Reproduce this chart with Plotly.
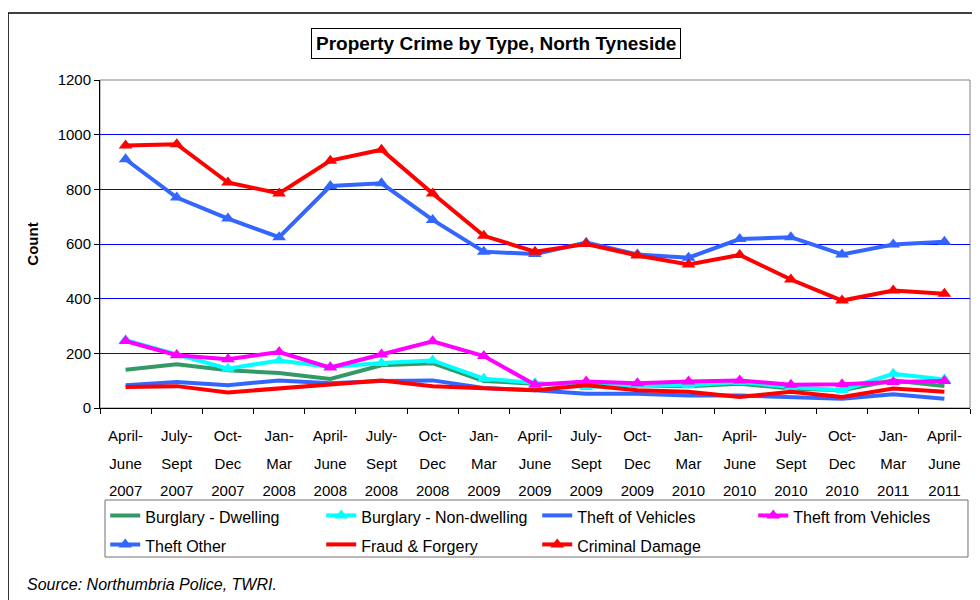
import plotly.graph_objects as go

# ---------------- data ----------------
period_line1 = ["April-", "July-", "Oct-", "Jan-", "April-", "July-", "Oct-", "Jan-", "April-",
                "July-", "Oct-", "Jan-", "April-", "July-", "Oct-", "Jan-", "April-"]
period_line2 = ["June", "Sept", "Dec", "Mar", "June", "Sept", "Dec", "Mar", "June",
                "Sept", "Dec", "Mar", "June", "Sept", "Dec", "Mar", "June"]
period_line3 = ["2007", "2007", "2007", "2008", "2008", "2008", "2008", "2009", "2009",
                "2009", "2009", "2010", "2010", "2010", "2010", "2011", "2011"]

burglary_dwelling = [140, 160, 138, 128, 106, 156, 164, 99, 89, 83, 83, 80, 89, 71, 65, 101, 80]
burglary_nondwelling = [248, 195, 144, 174, 150, 165, 174, 107, 91, 77, 85, 83, 95, 77, 65, 125, 104]
theft_of_vehicles = [83, 95, 83, 101, 91, 99, 101, 73, 65, 52, 52, 46, 46, 40, 34, 50, 34]
theft_from_vehicles = [245, 193, 178, 205, 148, 196, 244, 190, 85, 97, 91, 97, 101, 85, 87, 95, 99]
theft_other = [910, 770, 693, 625, 812, 822, 688, 572, 563, 605, 562, 550, 618, 625, 562, 598, 608]
fraud_forgery = [77, 80, 57, 71, 85, 101, 80, 73, 65, 83, 65, 59, 40, 59, 40, 71, 59]
criminal_damage = [960, 965, 825, 785, 905, 945, 785, 630, 572, 600, 558, 525, 560, 470, 393, 430, 418]

y_ticks = [0, 200, 400, 600, 800, 1000, 1200]

# ---------------- figure ----------------
FONT = "Liberation Sans, Arial, sans-serif"
categories = [f"{a}|{b}|{c}" for a, b, c in zip(period_line1, period_line2, period_line3)]
tick_text = [f'<span style="font-size:15px">{a}</span><br>'
             f'<span style="font-size:15px">{b}</span><br>'
             f'<span style="font-size:15px">{c}</span>'
             for a, b, c in zip(period_line1, period_line2, period_line3)]

series = [
    ("Burglary - Dwelling", burglary_dwelling, "#339966", False),
    ("Burglary - Non-dwelling", burglary_nondwelling, "#00FFFF", True),
    ("Theft of Vehicles", theft_of_vehicles, "#3366FF", False),
    ("Theft from Vehicles", theft_from_vehicles, "#FF00FF", True),
    ("Theft Other", theft_other, "#3366FF", True),
    ("Fraud & Forgery", fraud_forgery, "#FF0000", False),
    ("Criminal Damage", criminal_damage, "#FF0000", True),
]

fig = go.Figure()
for name, vals, col, mk in series:
    fig.add_trace(go.Scatter(
        x=categories, y=vals,
        name=f'<span style="font-size:16px">{name}</span>',
        mode="lines+markers" if mk else "lines",
        line=dict(color=col, width=4),
        marker=dict(symbol="triangle-up", size=12, color=col) if mk else None,
    ))

fig.update_layout(
    width=980, height=600,
    margin=dict(l=92, r=18, t=72, b=200, autoexpand=False),
    paper_bgcolor="white", plot_bgcolor="white",
    font=dict(family=FONT, size=15, color="black"),
    showlegend=True,
    legend=dict(
        orientation="h", x=0.006, y=-0.268, xanchor="left", yanchor="top",
        borderwidth=0, bgcolor="rgba(0,0,0,0)",
        entrywidth=171, entrywidthmode="pixels",
        font=dict(family=FONT, size=20, color="black"),
        traceorder="normal", itemwidth=30,
    ),
    xaxis=dict(
        type="category", range=[-0.5, 16.5],
        tickmode="array", tickvals=categories, ticktext=tick_text,
        tickson="boundaries", ticks="outside", ticklen=5, tickcolor="black",
        showline=True, linecolor="black", linewidth=1,
        showgrid=False, tickangle=0, ticklabelstandoff=7,
        tickfont=dict(family=FONT, size=21, color="black"),
    ),
    yaxis=dict(
        range=[0, 1200], tickmode="array", tickvals=y_ticks,
        ticks="outside", ticklen=5, tickcolor="black",
        showline=True, linecolor="black", linewidth=1,
        showgrid=True, gridcolor="#0000FF", gridwidth=1,
        zeroline=False,
        tickfont=dict(family=FONT, size=15, color="black"),
        title=dict(text="<b>Count</b>", font=dict(family=FONT, size=15, color="black"),
                   standoff=15),
    ),
)

# plot area border (top/right grey), legend box and outer frame
fig.add_shape(type="rect", xref="paper", yref="paper", x0=0, y0=0, x1=1, y1=1,
              line=dict(color="#808080", width=1), layer="below")
fig.add_shape(type="rect", xref="paper", yref="paper", x0=0.00575, y0=-0.4543, x1=0.9977, y1=-0.2805,
              line=dict(color="#707070", width=1), layer="above")
fig.add_shape(type="rect", xref="paper", yref="paper", x0=-0.1057, y0=-0.7, x1=1.05, y1=1.2043,
              line=dict(color="black", width=1.5), layer="below")

# title box
fig.add_annotation(text="<b>Property Crime by Type, North Tyneside</b>",
                   xref="paper", yref="paper", x=0.4546, y=1.1098,
                   xanchor="center", yanchor="middle", showarrow=False,
                   font=dict(family=FONT, size=19, color="black"),
                   bordercolor="black", borderwidth=1, borderpad=4, bgcolor="white")

# source note
fig.add_annotation(text="<i>Source: Northumbria Police, TWRI.</i>",
                   xref="paper", yref="paper", x=-0.0862, y=-0.5396,
                   xanchor="left", yanchor="middle", showarrow=False,
                   font=dict(family=FONT, size=16, color="black"))

fig.write_html("out.html")
